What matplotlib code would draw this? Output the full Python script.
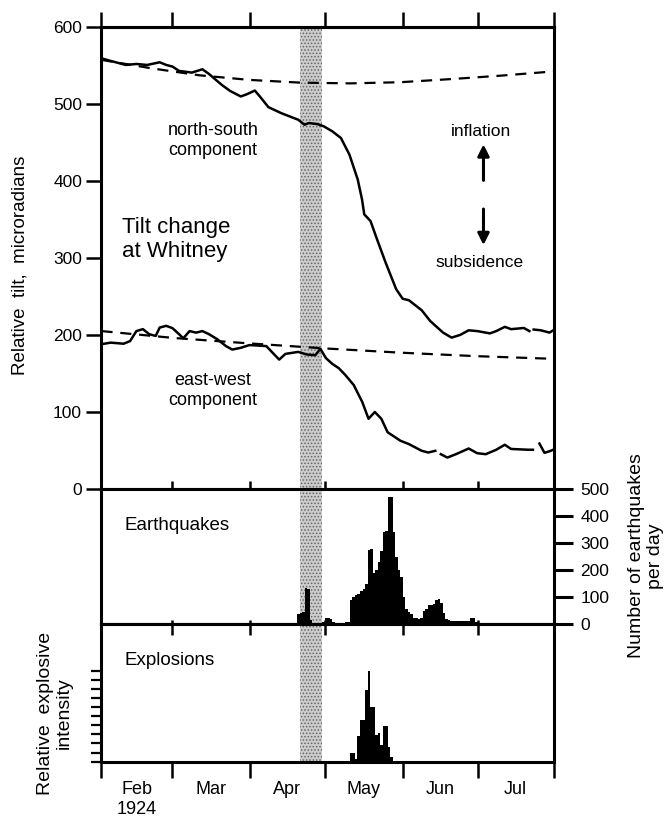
import matplotlib
matplotlib.use("Agg")
import matplotlib.pyplot as plt
import numpy as np

plt.rcParams['font.family'] = ['Liberation Sans', 'DejaVu Sans']
plt.rcParams['hatch.linewidth'] = 0.7
plt.rcParams['hatch.color'] = '#5a5a5a'

# days counted from 1 Feb 1924
x_min, x_max = 1.0, 181.3
month_edges = [29, 60, 90, 121, 151]
month_mid = [15, 44.5, 75, 105.5, 136, 166]
month_names = ["Feb\n1924", "Mar", "Apr", "May", "Jun", "Jul"]
band_start, band_end = 80.0, 89.0

# north-south tilt (nan = gap in the record)
ns_day = [1.0, 4.7, 10.7, 14.9, 19.2, 24.2, 26.8, 29.3, 31.9, 37.0, 41.2, 43.8,
          48.9, 52.2, 56.5, 59.0, 62.1, 64.1, 67.5, 72.6, 79.4, 81.9, 83.6, 87.0,
          89.6, 93.0, 96.4, 99.8, 103.1, 104.8, 105.7, 108.2, 110.8, 114.2, 118.4,
          121.0, 123.5, 128.6, 132.0, 137.1, 140.5, 143.9, 147.3, 150.7, 155.8,
          158.3, 161.7, 164.2, 169.3, 171.5, 172.0, 173.2, 176.1, 179.5, 181.0]
ns_tilt = [559, 555.6, 550.4, 551.7, 550.4, 553.9, 550.4, 548.3, 542.7, 540.5, 544.8, 538.8,
           524.6, 516.8, 509.5, 512.5, 517.2, 509.5, 495.7, 487.9, 479.3, 472.8, 475.0, 473.7,
           470.7, 464.2, 455.6, 434, 401.7, 376, 356.5, 347.8, 324, 294, 259.5,
           247, 245, 232, 218, 203, 196.5, 200, 206, 205, 202,
           205, 210.5, 207.5, 209, 205, np.nan, 207, 206, 203, 206]

# east-west tilt
ew_day = [1.0, 4.7, 9.8, 12.4, 14.9, 17.5, 20.0, 22.6, 24.2, 26.8, 29.3, 31.9, 33.6,
          36.1, 38.7, 41.2, 43.8, 47.2, 50.6, 53.1, 56.5, 59.9, 62.4, 66.7, 69.2,
          71.8, 74.3, 79.4, 82.8, 86.2, 88.2, 90.4, 93.0, 95.5, 98.1, 101.5, 104.9,
          107.4, 109.9, 112.5, 115.0, 120.1, 123.5, 128.6, 131.2, 134.0, 135.0,
          136.2, 138.8, 142.2, 147.3, 150.7, 154.1, 158.3, 161.7, 164.2, 171.0,
          172.9, 174.0, 175.5, 177.5, 179.5, 181.0]
ew_tilt = [188, 190, 188.6, 192, 205, 207.5, 201, 198.7, 209.6, 211.8, 208.8, 201, 195.6,
           205, 203, 205, 201, 194.3, 185.5, 181, 183.3, 186.8, 186.4, 185.5, 176.8,
           168, 175.4, 178, 174.6, 173.7, 182, 170, 162.3, 157, 148.2, 135, 113,
           91.2, 100, 91.2, 73.7, 62.7, 58.3, 49.6, 47.4, 49.6, np.nan,
           45.2, 40.8, 45.2, 52.6, 46.5, 45.2, 51, 57.5, 52, 51,
           51, np.nan, 59, 47, 49, 51]

# long-term trend lines (dashed)
ns_trend_day = [1, 21, 40, 60, 80, 100, 120, 140, 160, 181]
ns_trend = [557, 546, 537, 531, 527.5, 526.5, 528, 532, 536.5, 542]
ew_trend_day = [1, 30, 60, 90, 120, 150, 181]
ew_trend = [205, 196, 189, 182.5, 177, 172.5, 169]

# earthquakes per day
quake_day = list(range(60, 159))
quake_count = [0, 2, 0, 3, 0, 0, 2, 0, 3, 0, 0, 2, 0, 0, 3, 0, 0, 2, 4,
               40, 42, 45, 135, 130, 15, 0, 0, 0, 0, 10,
               24, 22, 20, 10, 5, 5, 6, 6, 8, 10,
               90, 100, 108, 112, 122, 130, 150, 275, 280, 190,
               200, 230, 270, 340, 345, 470, 470, 340, 250, 200,
               175, 100, 57, 45, 40, 24, 22, 20, 24, 50,
               55, 70, 72, 75, 90, 93, 80, 43, 20, 15,
               13, 13, 13, 13, 13, 13, 13, 13, 24, 22,
               10, 3, 3, 2, 3, 2, 3, 2, 2]

# relative explosive intensity per day
blast_day = list(range(100, 117))
blast_intensity = [1, 1, 0.3, 2.8, 4.6, 4.6, 7.9, 10, 6, 6, 2.9, 3.1, 1.8, 3.9, 3.9, 1.6, 0.5]

fig = plt.figure(figsize=(6.69, 8.23), dpi=100)
ax1 = fig.add_axes([0.1517, 0.4058, 0.6764, 0.5617])
ax2 = fig.add_axes([0.1517, 0.2414, 0.6764, 0.1644])
ax3 = fig.add_axes([0.1517, 0.0745, 0.6764, 0.1670])

spine_w = 2.2
tick_w = 1.8
major_x = [x_min] + month_edges + [x_max]

for ax in (ax1, ax2, ax3):
    ax.set_xlim(x_min, x_max)
    for sp in ax.spines.values():
        sp.set_linewidth(spine_w)
    ax.axvspan(band_start, band_end, facecolor='#cccccc', edgecolor='#666666',
               hatch='.....', linewidth=0, zorder=0)
    ax.set_xticks(major_x)
    ax.set_xticklabels([])

# tilt panel
ax1.plot(ns_day, ns_tilt, color='black', lw=1.8)
ax1.plot(ew_day, ew_tilt, color='black', lw=1.8)
ax1.plot(ns_trend_day, ns_trend, color='black', lw=1.6, dashes=(5, 3.5))
ax1.plot(ew_trend_day, ew_trend, color='black', lw=1.6, dashes=(5, 3.5))
ax1.set_ylim(0, 600)
ax1.set_yticks(range(0, 601, 100))
ax1.tick_params(axis='y', direction='out', length=11, width=tick_w, labelsize=12.5, pad=3)
ax1.tick_params(axis='x', direction='inout', length=12, width=tick_w)
top1 = ax1.secondary_xaxis('top')
top1.set_xticks(major_x)
top1.set_xticklabels([])
top1.tick_params(direction='out', length=11, width=tick_w)
top1.spines['top'].set_linewidth(spine_w)

ax1.text(45.5, 452, "north-south\ncomponent", ha='center', va='center', fontsize=13)
ax1.text(45.5, 127.5, "east-west\ncomponent", ha='center', va='center', fontsize=13)
ax1.text(9, 324, "Tilt change\nat Whitney", ha='left', va='center', fontsize=16)
ax1.text(152.4, 464, "inflation", ha='center', va='center', fontsize=12.5)
ax1.text(151.5, 294, "subsidence", ha='center', va='center', fontsize=12.5)
ax1.annotate('', xy=(153.2, 451), xytext=(153.2, 397),
             arrowprops=dict(arrowstyle='-|>', lw=2.2, color='black', mutation_scale=17))
ax1.annotate('', xy=(153.2, 313), xytext=(153.2, 367),
             arrowprops=dict(arrowstyle='-|>', lw=2.2, color='black', mutation_scale=17))

# earthquake panel
ax2.bar(np.array(quake_day) + 0.5, quake_count, width=1.0, color='black', linewidth=0)
ax2.set_ylim(0, 500)
ax2.yaxis.tick_right()
ax2.set_yticks(range(0, 501, 100))
ax2.tick_params(axis='y', direction='out', length=14, width=2.2, labelsize=12.5, pad=5)
ax2.tick_params(axis='x', direction='in', length=3, width=tick_w)
ax2.text(10.3, 367, "Earthquakes", ha='left', va='center', fontsize=13.5)

# explosion panel
ax3.bar(np.array(blast_day) + 0.5, blast_intensity, width=1.0, color='black', linewidth=0)
ax3.set_ylim(0, 15.1)
ax3.set_yticks(range(0, 11))
ax3.set_yticklabels([])
ax3.tick_params(axis='y', direction='out', length=7.5, width=1.6)
ax3.tick_params(axis='x', which='major', direction='out', length=11.5, width=tick_w)
ax3.set_xticks(month_mid, minor=True)
ax3.set_xticklabels(month_names, minor=True, fontsize=13)
ax3.tick_params(axis='x', which='minor', length=0, pad=14)
top3 = ax3.secondary_xaxis('top')
top3.set_xticks(month_edges)
top3.set_xticklabels([])
top3.tick_params(direction='in', length=8, width=tick_w)
top3.spines['top'].set_linewidth(spine_w)
ax3.text(10.3, 11.1, "Explosions", ha='left', va='center', fontsize=13.5)

# axis titles
fig.text(20 / 669, 1 - 265 / 823, "Relative  tilt,  microradians", rotation=90,
         ha='center', va='center', fontsize=13.5)
fig.text(55 / 669, 1 - 713 / 823, "Relative  explosive\nintensity", rotation=90,
         ha='center', va='center', fontsize=14, multialignment='center', linespacing=1.15)
fig.text(646 / 669, 1 - 556 / 823, "Number of earthquakes\nper day", rotation=90,
         ha='center', va='center', fontsize=14, multialignment='center', linespacing=1.15)

fig.savefig("out.png", dpi=100, facecolor='white')
